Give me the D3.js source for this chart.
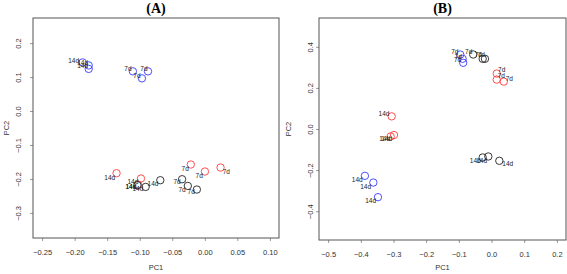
<!DOCTYPE html>
<html>
<head>
<meta charset="utf-8">
<script src="https://cdn.jsdelivr.net/npm/d3@7"></script>
<style>
body { margin: 0; background: #fff; }
text { font-family: "Liberation Sans", Arial, sans-serif; }
</style>
</head>
<body>
<script>
var w = 567;
var h = 274;

// group of each sample: "b" = blue, "r" = red, "k" = black
// Panel A
var aGroup = ["b","b","b","b","b","b","r","r","r","r","r","r","k","k","k","k","k","k"];
var aLabel = ["14d","14d","14d","7d","7d","7d","14d","14d","14d","7d","7d","7d","14d","14d","14d","7d","7d","7d"];
var aPC1 = [-0.1877,-0.1784,-0.1784,-0.1105,-0.0873,-0.0966,-0.1356,-0.0981,-0.1028,-0.0215,0.0002,0.0242,-0.1035,-0.0909,-0.0684,-0.0349,-0.0261,-0.0122];
var aPC2 = [0.1432,0.1344,0.1241,0.1168,0.1168,0.0962,-0.1832,-0.1988,-0.2165,-0.1576,-0.1782,-0.1665,-0.2185,-0.2235,-0.2038,-0.2009,-0.2206,-0.2312];
var aTextPC1 = [-0.2015,-0.1877,-0.1877,-0.1182,-0.0935,-0.1043,-0.146,-0.1105,-0.1136,-0.0302,-0.0086,0.033,-0.1136,-0.1028,-0.0796,-0.0426,-0.0349,-0.021];
var aTextPC2 = [0.149,0.142,0.134,0.1256,0.1256,0.105,-0.195,-0.2068,-0.2244,-0.1685,-0.1891,-0.1774,-0.2244,-0.2303,-0.2156,-0.2097,-0.2332,-0.2391];
var aXTicks = [-0.25,-0.20,-0.15,-0.10,-0.05,0.00,0.05,0.10];
var aYTicks = [0.2,0.1,0.0,-0.1,-0.2,-0.3];
var aXLim = [-0.25, 0.10];
var aYLim = [-0.35, 0.25];

// Panel B
var bGroup = ["b","b","b","k","k","k","r","r","r","r","r","r","k","k","k","b","b","b"];
var bLabel = ["7d","7d","7d","7d","7d","7d","7d","7d","7d","14d","14d","14d","14d","14d","14d","14d","14d","14d"];
var bPC1 = [-0.0958,-0.0884,-0.0866,-0.0559,-0.0270,-0.0200,0.0160,0.0160,0.0375,-0.3055,-0.3086,-0.2984,-0.0270,-0.0098,0.0239,-0.3875,-0.3617,-0.3476];
var bPC2 = [0.3624,0.3415,0.3220,0.3624,0.3415,0.3415,0.2698,0.2405,0.2307,0.0615,-0.0361,-0.0293,-0.1385,-0.1337,-0.1546,-0.2278,-0.2605,-0.3317];
var bTextPC1 = [-0.1121,-0.1019,-0.1038,-0.07,-0.0405,-0.0313,0.0313,0.0301,0.0547,-0.3291,-0.327,-0.3208,-0.0497,-0.0301,0.0497,-0.4108,-0.3853,-0.37];
var bTextPC2 = [0.3756,0.3512,0.3366,0.3756,0.359,0.359,0.2893,0.2585,0.2454,0.0746,-0.0488,-0.0449,-0.1561,-0.1561,-0.1707,-0.2473,-0.28,-0.3483];
var bXTicks = [-0.5,-0.4,-0.3,-0.2,-0.1,0.0,0.1,0.2];
var bYTicks = [0.4,0.2,0.0,-0.2,-0.4];
var bXLim = [-0.5, 0.2];
var bYLim = [-0.5, 0.5];

var colour = d3.scaleOrdinal()
    .domain(["b","r","k"])
    .range(["#3b3bff","#ff3b3b","#222"]);

var svg = d3.select("body")
    .append("svg")
    .attr("width", w)
    .attr("height", h);

// R style 4% range extension
function extend(lim) {
    var pad = (lim[1] - lim[0]) * 0.04;
    return [lim[0] - pad, lim[1] + pad];
}

function drawPanel(p) {
    var xScale = d3.scaleLinear().domain(extend(p.xlim)).range([p.left, p.right]);
    var yScale = d3.scaleLinear().domain(extend(p.ylim)).range([p.bottom, p.top]);

    var g = svg.append("g");

    g.append("text")
        .attr("x", (p.left + p.right) / 2)
        .attr("y", 13)
        .attr("text-anchor", "middle")
        .style("font-family", "'Liberation Serif', 'Times New Roman', serif")
        .style("font-weight", "bold")
        .style("font-size", "14px")
        .text(p.title);

    var xAxis = d3.axisBottom(xScale)
        .tickValues(p.xticks)
        .tickFormat(d3.format(p.xfmt))
        .tickSize(3)
        .tickPadding(p.xpad);
    var yAxis = d3.axisLeft(yScale)
        .tickValues(p.yticks)
        .tickFormat(d3.format(".1f"))
        .tickSize(3)
        .tickPadding(2);

    var gx = g.append("g")
        .attr("transform", "translate(0," + p.bottom + ")")
        .call(xAxis);
    gx.select(".domain").remove();
    gx.selectAll("line").attr("stroke", "#999");
    gx.selectAll("text").attr("fill", "#333").style("font-size", "7.5px");

    var gy = g.append("g")
        .attr("transform", "translate(" + p.left + ",0)")
        .call(yAxis);
    gy.select(".domain").remove();
    gy.selectAll("line").attr("stroke", "#999");
    gy.selectAll("text")
        .attr("fill", "#333")
        .style("font-size", "7.5px")
        .attr("text-anchor", "middle")
        .attr("dy", null)
        .attr("x", null)
        .attr("transform", function() { return "translate(" + (p.ylabx - p.left) + ",0) rotate(-90)"; });

    g.append("rect")
        .attr("x", p.left)
        .attr("y", p.top)
        .attr("width", p.right - p.left)
        .attr("height", p.bottom - p.top)
        .attr("fill", "none")
        .attr("stroke", "#555")
        .attr("stroke-width", 1);

    g.append("text")
        .attr("x", (p.left + p.right) / 2)
        .attr("y", 270)
        .attr("text-anchor", "middle")
        .attr("fill", "#333")
        .style("font-size", "7.5px")
        .text("PC1");

    g.append("text")
        .attr("transform", "translate(" + p.pc2x + "," + ((p.top + p.bottom) / 2) + ") rotate(-90)")
        .attr("text-anchor", "middle")
        .attr("fill", "#333")
        .style("font-size", "7.5px")
        .text("PC2");

    var idx = d3.range(p.pc1.length);

    g.append("g")
        .selectAll("circle")
        .data(idx)
        .enter()
        .append("circle")
        .attr("cx", function(i) { return xScale(p.pc1[i]); })
        .attr("cy", function(i) { return yScale(p.pc2[i]); })
        .attr("r", 3.7)
        .attr("fill", "none")
        .attr("stroke", function(i) { return colour(p.group[i]); })
        .attr("stroke-width", 0.9);

    g.append("g")
        .selectAll("text")
        .data(idx)
        .enter()
        .append("text")
        .attr("x", function(i) { return xScale(p.tx[i]); })
        .attr("y", function(i) { return yScale(p.ty[i]); })
        .attr("dy", "0.35em")
        .attr("text-anchor", "middle")
        .attr("fill", "#222")
        .style("font-size", "6.5px")
        .text(function(i) { return p.label[i]; });
}

drawPanel({
    title: "(A)", left: 33, right: 279, top: 18, bottom: 238,
    xlim: aXLim, ylim: aYLim, xticks: aXTicks, yticks: aYTicks, xfmt: ".2f", xpad: 9,
    ylabx: 21, pc2x: 9,
    group: aGroup, label: aLabel, pc1: aPC1, pc2: aPC2, tx: aTextPC1, ty: aTextPC2
});

drawPanel({
    title: "(B)", left: 319, right: 566, top: 18, bottom: 240,
    xlim: bXLim, ylim: bYLim, xticks: bXTicks, yticks: bYTicks, xfmt: ".1f", xpad: 9,
    ylabx: 313, pc2x: 291,
    group: bGroup, label: bLabel, pc1: bPC1, pc2: bPC2, tx: bTextPC1, ty: bTextPC2
});
</script>
</body>
</html>
